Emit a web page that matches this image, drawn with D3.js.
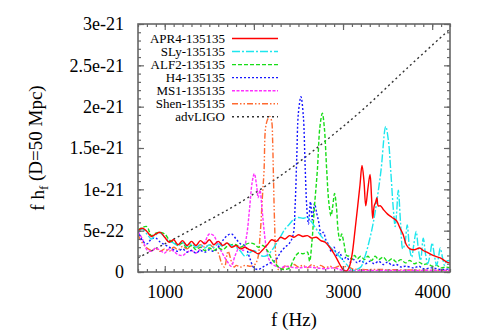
<!DOCTYPE html>
<html>
<head>
<meta charset="utf-8">
<title>f h_f spectra</title>
<script src="https://d3js.org/d3.v7.min.js"></script>
<style>
  body { margin: 0; background: #fff; }
  text { font-family: "Liberation Serif", "Times New Roman", serif; fill: #000; }
</style>
</head>
<body>
<svg id="chart" width="480" height="336"></svg>
<script>
// values in units of 1e-22
var xTicks = [1000, 2000, 3000, 4000];
var yTicks = [0, 5, 10, 15, 20, 25, 30];
var yTickLabels = ["0", "5e-22", "1e-21", "1.5e-21", "2e-21", "2.5e-21", "3e-21"];

var fAPR4 = [700,750,800,850,900,950,1000,1050,1100,1150,1200,1250,1300,1350,1400,1450,1500,1550,1600,1650,1700,1750,1800,1850,1900,1950,2000,2050,2100,2150,2200,2250,2300,2350,2400,2450,2500,2550,2600,2650,2700,2750,2800,2850,2900,2950,
  3000,3040,3070,3100,3135,3165,3190,3213,3235,3255,3278,3303,3320,3333,3350,3365,3380,3395,3420,3450,3500,3550,3600,3640,3675,3710,3750,3800,3860,3900,3940,4010,4090,4165,4200];
var hAPR4 = [5.0,5.3,4.9,4.3,4.6,4.8,4.2,3.6,3.9,3.3,3.8,3.2,3.7,3.2,3.8,3.4,3.9,3.3,3.7,3.2,3.5,3.0,3.2,2.8,3.0,2.7,2.5,2.2,2.7,3.3,3.9,3.7,4.2,4.0,4.4,4.2,4.5,4.3,4.4,4.1,4.2,3.8,3.6,3.0,2.2,1.2,
  0.3,0.1,0.6,2.0,5.1,8.0,10.5,12.9,11.0,8.0,10.0,11.8,9.0,6.5,8.0,8.4,9.0,8.0,8.0,7.6,7.0,6.6,6.2,5.3,4.5,3.3,2.8,2.7,2.9,2.6,2.4,2.0,1.7,1.2,1.1];

var fSLy = [700,750,800,850,900,950,1000,1050,1100,1150,1200,1250,1300,1350,1400,1450,1500,1550,1600,1650,1700,1750,1800,1850,1900,1950,2000,2050,2100,2150,2200,2250,2300,2350,2400,2450,2500,2550,2600,2650,2700,2750,2800,2850,2900,2950,3000,3050,3100,3150,3200,3250,3300,
  3340,3378,3426,3479,3510,3535,3565,3585,3600,3620,3645,3670,3695,3720,3745,3770,3795,3820,3845,3870,3900,3925,3950,3975,4000,4025,4050,4070,4090,4115,4140,4160,4200];
var hSLy = [5.0,5.2,4.6,4.0,4.5,4.7,4.2,3.7,3.5,3.2,3.6,3.1,3.4,3.0,3.3,2.9,3.3,3.0,3.4,3.1,3.5,3.2,3.0,2.5,1.9,2.3,2.6,2.2,1.9,2.0,2.6,3.4,4.3,5.2,5.8,6.4,6.6,6.5,6.6,6.0,5.2,4.4,3.8,3.1,2.6,2.0,1.4,0.8,0.2,0.3,0.6,2.0,4.0,
  6.0,8.5,12.3,17.6,15.8,12.3,7.5,5.5,7.0,9.9,6.0,2.8,3.5,5.7,3.0,1.8,3.4,4.9,2.8,1.4,4.1,2.2,1.0,2.0,3.5,2.0,0.8,1.7,2.9,1.8,0.8,1.3,1.4];

var fALF2 = [700,750,800,850,900,950,1000,1050,1100,1150,1200,1250,1300,1350,1400,1450,1500,1550,1600,1650,1700,1750,1800,1850,1900,1950,2000,2050,2100,2150,2200,2250,2300,2350,2400,2450,2500,2550,2600,
  2625,2650,2680,2712,2740,2768,2790,2817,2840,2865,2885,2905,2925,2945,2965,2985,3010,3040,3070,3100,3130,3160,3200,3240,3280,3320,3360,3400,3450,3500,3550,3600,3650,3700,3750,3800,3850,3900,3950,4000,4050,4100,4150,4200];
var hALF2 = [5.1,5.4,5.5,4.4,4.7,4.8,4.6,3.9,3.6,3.2,3.5,2.9,3.2,2.7,3.0,2.6,2.9,2.6,2.9,2.7,3.1,3.3,3.3,3.0,3.3,3.5,3.4,3.0,3.2,2.6,1.6,0.9,0.4,0.3,0.5,1.6,2.3,2.2,2.4,
  1.3,3.5,8.0,12.3,17.5,19.2,17.5,12.3,8.5,6.8,8.0,9.5,8.0,5.0,3.8,4.6,3.5,2.0,1.9,1.5,2.0,1.6,1.9,1.5,1.9,1.4,1.9,1.5,1.8,1.3,1.6,1.2,1.5,1.1,1.4,1.0,1.2,0.9,1.0,0.7,0.8,0.5,0.6,0.5];

var fH4 = [700,750,800,850,900,950,1000,1050,1100,1150,1200,1250,1300,1350,1400,1450,1500,1550,1600,1650,1700,1750,1800,1850,1900,1950,2000,2050,2100,2150,2200,2250,2300,2350,2400,
  2440,2462,2481,2499,2528,2555,2574,2593,2612,2635,2655,2680,2705,2730,2755,2780,2810,2840,2870,2900,2930,2960,3000,3040,3080,3120,3160,3200,3250,3300,3350,3400,3450,3500,3550,3600,3650,3700,3800,3850,3900,4000,4100,4200];
var hH4 = [5.0,3.8,3.4,4.0,4.1,3.6,3.3,3.0,2.7,2.5,2.8,2.4,2.6,2.3,2.6,2.4,2.7,2.5,3.0,3.8,4.4,4.6,4.0,3.4,3.2,1.8,0.5,0.3,0.6,0.9,1.2,1.5,2.4,3.0,3.5,
  4.5,7.9,13.9,19.2,21.2,18.8,13.1,7.9,5.8,8.5,6.3,8.3,7.1,5.9,4.5,4.8,3.8,3.3,2.4,3.0,2.0,2.4,1.5,1.8,1.2,1.5,1.1,1.4,1.0,1.3,1.0,1.3,0.9,1.2,0.8,0.9,0.6,0.7,0.5,0.7,0.4,0.5,0.3,0.4];

var fMS1 = [700,750,800,850,900,950,1000,1050,1100,1150,1200,1250,1300,1350,1400,1450,1500,1550,1600,1650,1700,
  1745,1790,1840,1880,1920,1950,1980,2005,2030,2048,2068,2090,2110,2135,2160,2200,2250,2300,2350,2400,2500,2600,2700,2800,2900,3000,3200,3600,4200];
var hMS1 = [4.9,4.0,2.7,2.5,2.9,2.6,2.3,2.8,2.5,2.1,2.0,2.4,2.6,2.3,2.8,3.6,4.6,4.4,3.2,2.2,1.3,
  0.7,2.0,3.0,2.6,4.5,7.5,10.8,11.9,10.5,9.0,9.9,7.8,5.5,3.2,1.8,1.0,0.7,0.5,0.7,0.6,0.5,0.6,0.5,0.4,0.5,0.2,0.2,0.2,0.2];

var fShen = [700,750,800,850,900,950,1000,1050,1100,1150,1200,1250,1300,1350,1400,1450,1500,1550,1600,
  1640,1670,1710,1750,1780,1800,1850,1900,1950,2000,2040,2070,2095,2114,2133,2160,2181,2200,2210,2218,2232,2250,2275,2320,2360,2400,2450,2500,2550,2600,2650,2700,2750,2800,2850,2900,2950,3000,3050,3100,3200,3400,3700,4200];
var hShen = [4.5,3.5,2.9,2.6,2.8,2.5,2.8,2.5,3.0,2.7,3.1,2.8,3.2,2.9,3.3,3.0,3.3,2.9,2.3,
  1.0,0.6,2.5,1.2,0.6,0.8,0.6,0.8,0.7,0.8,1.5,4.5,9.0,12.3,17.6,18.6,18.8,18.2,16.0,12.3,6.0,1.5,0.3,0.4,0.8,0.6,0.9,0.6,0.8,0.5,0.9,0.6,0.8,0.5,0.7,0.5,0.7,0.6,0.7,0.4,0.3,0.3,0.25,0.2];

var fLIGO = [700, 1000, 1500, 1844, 2383, 2854, 3228, 3714, 4200];
var hLIGO = [1.7, 3.4, 6.3, 8.4, 12.3, 16.3, 19.7, 24.6, 29.4];

var names = ["APR4-135135", "SLy-135135", "ALF2-135135", "H4-135135", "MS1-135135", "Shen-135135", "advLIGO"];
var colors = ["#ff0000", "#1ee6ee", "#18dd18", "#1818ff", "#ff30ff", "#ff6a30", "#333333"];
var dashes = [null, "8,2,2,2", "4,2", "2,2", "3,1.5", "6,2,1.5,2,1.5,2", "2,3"];
var freqs = [fAPR4, fSLy, fALF2, fH4, fMS1, fShen, fLIGO];
var vals = [hAPR4, hSLy, hALF2, hH4, hMS1, hShen, hLIGO];

var svg = d3.select("#chart");
var plotL = 138, plotR = 450, plotT = 24, plotB = 272;

var x = d3.scaleLinear().domain([700, 4200]).range([plotL, plotR]);
var y = d3.scaleLinear().domain([0, 30]).range([plotB, plotT]);

svg.append("clipPath").attr("id", "clip")
  .append("rect").attr("x", plotL).attr("y", plotT).attr("width", plotR - plotL).attr("height", plotB - plotT);

var line = d3.line()
  .x(function(d) { return x(d[0]); })
  .y(function(d) { return y(d[1]); })
  .curve(d3.curveCatmullRom.alpha(0.5));

var plot = svg.append("g").attr("clip-path", "url(#clip)");
// advLIGO first, then spectra in reverse so APR4 sits on top
for (var i = names.length - 1; i >= 0; i--) {
  plot.append("path")
    .datum(d3.zip(freqs[i], vals[i]))
    .attr("d", line)
    .attr("fill", "none")
    .attr("stroke", colors[i])
    .attr("stroke-width", 1.4)
    .attr("stroke-dasharray", dashes[i]);
}

// axes, ticks inward on all four sides
var minorX = d3.range(700, 4201, 100);
var minorY = d3.range(0, 30.1, 1);
function styleAxis(g) {
  g.select(".domain").remove();
  g.selectAll("line").attr("stroke", "#666").attr("stroke-width", 1.2);
  g.selectAll("text").attr("font-size", 18).attr("fill", "#000")
    .attr("font-family", "'Liberation Serif', serif");
}
svg.append("g").attr("transform", "translate(0," + plotB + ")")
  .call(d3.axisBottom(x).tickValues(minorX).tickSize(-3).tickFormat("")).call(styleAxis);
svg.append("g").attr("transform", "translate(0," + plotT + ")")
  .call(d3.axisTop(x).tickValues(minorX).tickSize(-3).tickFormat("")).call(styleAxis);
svg.append("g").attr("transform", "translate(" + plotL + ",0)")
  .call(d3.axisLeft(y).tickValues(minorY).tickSize(-3).tickFormat("")).call(styleAxis);
svg.append("g").attr("transform", "translate(" + plotR + ",0)")
  .call(d3.axisRight(y).tickValues(minorY).tickSize(-3).tickFormat("")).call(styleAxis);

svg.append("g").attr("transform", "translate(0," + plotB + ")")
  .call(d3.axisBottom(x).tickValues(xTicks).tickSize(-6).tickPadding(13).tickFormat(d3.format("d"))).call(styleAxis);
svg.append("g").attr("transform", "translate(0," + plotT + ")")
  .call(d3.axisTop(x).tickValues(xTicks).tickSize(-6).tickFormat("")).call(styleAxis);
svg.append("g").attr("transform", "translate(" + plotL + ",0)")
  .call(d3.axisLeft(y).tickValues(yTicks).tickSize(-6).tickPadding(14)
    .tickFormat(function(d, i) { return yTickLabels[i]; })).call(styleAxis);
svg.append("g").attr("transform", "translate(" + plotR + ",0)")
  .call(d3.axisRight(y).tickValues(yTicks).tickSize(-6).tickFormat("")).call(styleAxis);

svg.append("rect")
  .attr("x", plotL).attr("y", plotT).attr("width", plotR - plotL).attr("height", plotB - plotT)
  .attr("fill", "none").attr("stroke", "#666").attr("stroke-width", 1.6);

// legend
var legend = svg.append("g");
names.forEach(function(n, i) {
  var ly = 38.5 + i * 13.05;
  legend.append("text").attr("x", 225).attr("y", ly).attr("dy", "0.35em")
    .attr("text-anchor", "end").attr("font-size", 13).text(n);
  legend.append("line").attr("x1", 232).attr("x2", 278).attr("y1", ly).attr("y2", ly)
    .attr("stroke", colors[i]).attr("stroke-width", 1.4).attr("stroke-dasharray", dashes[i]);
});

// axis titles
svg.append("text").attr("x", 294).attr("y", 326).attr("text-anchor", "middle")
  .attr("font-size", 19).text("f (Hz)");
var yl = svg.append("text").attr("transform", "translate(44,148) rotate(-90)")
  .attr("text-anchor", "middle").attr("font-size", 19);
yl.append("tspan").text("f h");
yl.append("tspan").attr("font-size", 13).attr("dy", "0.3em").text("f");
yl.append("tspan").attr("dy", "-0.3em").text(" (D=50 Mpc)");
</script>
</body>
</html>
